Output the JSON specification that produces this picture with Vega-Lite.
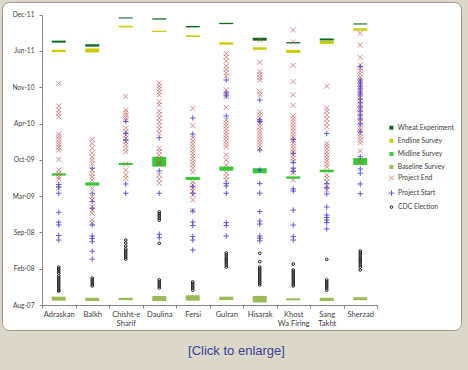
{
"$schema": "https://vega.github.io/schema/vega-lite/v6.json",
"width": 459, "height": 328,
"autosize": "none",
"padding": {"left": 2, "top": 2, "right": 7, "bottom": 40},
"background": "#dbd7c9",
"title": {"text": "[Click to enlarge]", "orient": "bottom", "anchor": "middle", "frame": "group", "font": "Liberation Sans", "fontSize": 13, "fontWeight": "normal", "color": "#3c4199", "offset": 15, "dx": 5},
"config": {
  "view": {"fill": "white", "stroke": "#9a968c", "strokeWidth": 1, "cornerRadius": 7},
  "axis": {"labelFont": "Lato", "labelColor": "#404040", "domainColor": "#868686", "tickColor": "#868686", "grid": false, "title": null},
  "legend": {"labelFont": "Lato", "labelColor": "#404040", "labelFontSize": 6.8, "title": null, "padding": 0, "rowPadding": 5.1, "labelOffset": 3, "orient": "none"}
},
"datasets": {
"surveys": [
{"district":"Adraskan","survey":"Wheat Experiment","start":"2011-07-17","end":"2011-07-28"},
{"district":"Adraskan","survey":"Endline Survey","start":"2011-05-26","end":"2011-06-08"},
{"district":"Adraskan","survey":"Midline Survey","start":"2009-07-14","end":"2009-07-27"},
{"district":"Adraskan","survey":"Baseline Survey","start":"2007-08-25","end":"2007-09-16"},
{"district":"Balkh","survey":"Wheat Experiment","start":"2011-06-25","end":"2011-07-08"},
{"district":"Balkh","survey":"Endline Survey","start":"2011-05-24","end":"2011-06-15"},
{"district":"Balkh","survey":"Midline Survey","start":"2009-05-20","end":"2009-06-07"},
{"district":"Balkh","survey":"Baseline Survey","start":"2007-08-23","end":"2007-09-10"},
{"district":"Chisht-e Sharif","survey":"Wheat Experiment","start":"2011-11-27","end":"2011-12-03"},
{"district":"Chisht-e Sharif","survey":"Endline Survey","start":"2011-10-09","end":"2011-10-18"},
{"district":"Chisht-e Sharif","survey":"Midline Survey","start":"2009-09-11","end":"2009-09-22"},
{"district":"Chisht-e Sharif","survey":"Baseline Survey","start":"2007-08-28","end":"2007-09-10"},
{"district":"Daulina","survey":"Wheat Experiment","start":"2011-11-21","end":"2011-11-28"},
{"district":"Daulina","survey":"Endline Survey","start":"2011-09-14","end":"2011-09-21"},
{"district":"Daulina","survey":"Midline Survey","start":"2009-09-02","end":"2009-10-26"},
{"district":"Daulina","survey":"Baseline Survey","start":"2007-08-23","end":"2007-09-20"},
{"district":"Fersi","survey":"Wheat Experiment","start":"2011-10-09","end":"2011-10-17"},
{"district":"Fersi","survey":"Endline Survey","start":"2011-08-17","end":"2011-08-26"},
{"district":"Fersi","survey":"Midline Survey","start":"2009-06-20","end":"2009-07-07"},
{"district":"Fersi","survey":"Baseline Survey","start":"2007-08-25","end":"2007-09-24"},
{"district":"Gulran","survey":"Wheat Experiment","start":"2011-10-27","end":"2011-11-03"},
{"district":"Gulran","survey":"Endline Survey","start":"2011-07-06","end":"2011-07-19"},
{"district":"Gulran","survey":"Midline Survey","start":"2009-08-10","end":"2009-09-02"},
{"district":"Gulran","survey":"Baseline Survey","start":"2007-08-28","end":"2007-09-16"},
{"district":"Hisarak","survey":"Wheat Experiment","start":"2011-07-28","end":"2011-08-13"},
{"district":"Hisarak","survey":"Endline Survey","start":"2011-06-08","end":"2011-06-21"},
{"district":"Hisarak","survey":"Midline Survey","start":"2009-07-27","end":"2009-08-24"},
{"district":"Hisarak","survey":"Baseline Survey","start":"2007-08-15","end":"2007-09-20"},
{"district":"Khost Wa Firing","survey":"Wheat Experiment","start":"2011-07-13","end":"2011-07-20"},
{"district":"Khost Wa Firing","survey":"Endline Survey","start":"2011-05-22","end":"2011-06-07"},
{"district":"Khost Wa Firing","survey":"Midline Survey","start":"2009-06-27","end":"2009-07-10"},
{"district":"Khost Wa Firing","survey":"Baseline Survey","start":"2007-08-27","end":"2007-09-07"},
{"district":"Sang Takht","survey":"Wheat Experiment","start":"2011-07-29","end":"2011-08-09"},
{"district":"Sang Takht","survey":"Endline Survey","start":"2011-07-10","end":"2011-07-26"},
{"district":"Sang Takht","survey":"Midline Survey","start":"2009-08-02","end":"2009-08-16"},
{"district":"Sang Takht","survey":"Baseline Survey","start":"2007-08-23","end":"2007-09-10"},
{"district":"Sherzad","survey":"Wheat Experiment","start":"2011-10-25","end":"2011-10-31"},
{"district":"Sherzad","survey":"Endline Survey","start":"2011-09-21","end":"2011-10-04"},
{"district":"Sherzad","survey":"Midline Survey","start":"2009-09-11","end":"2009-10-19"},
{"district":"Sherzad","survey":"Baseline Survey","start":"2007-08-28","end":"2007-09-13"}
],
"events": [
{"district":"Adraskan","type":"Project End","date":"2010-12-04"},
{"district":"Adraskan","type":"Project End","date":"2010-08-02"},
{"district":"Adraskan","type":"Project End","date":"2010-07-11"},
{"district":"Adraskan","type":"Project End","date":"2010-06-22"},
{"district":"Adraskan","type":"Project End","date":"2010-06-04"},
{"district":"Adraskan","type":"Project End","date":"2010-02-28"},
{"district":"Adraskan","type":"Project End","date":"2010-02-14"},
{"district":"Adraskan","type":"Project End","date":"2010-01-30"},
{"district":"Adraskan","type":"Project End","date":"2010-01-15"},
{"district":"Adraskan","type":"Project End","date":"2009-12-31"},
{"district":"Adraskan","type":"Project End","date":"2009-12-17"},
{"district":"Adraskan","type":"Project End","date":"2009-12-02"},
{"district":"Adraskan","type":"Project End","date":"2009-10-12"},
{"district":"Adraskan","type":"Project End","date":"2009-08-14"},
{"district":"Adraskan","type":"Project End","date":"2009-07-27"},
{"district":"Adraskan","type":"Project End","date":"2009-07-08"},
{"district":"Adraskan","type":"Project End","date":"2009-06-25"},
{"district":"Adraskan","type":"Project End","date":"2009-05-05"},
{"district":"Balkh","type":"Project End","date":"2010-01-29"},
{"district":"Balkh","type":"Project End","date":"2010-01-07"},
{"district":"Balkh","type":"Project End","date":"2009-12-13"},
{"district":"Balkh","type":"Project End","date":"2009-11-16"},
{"district":"Balkh","type":"Project End","date":"2009-10-25"},
{"district":"Balkh","type":"Project End","date":"2009-10-08"},
{"district":"Balkh","type":"Project End","date":"2009-09-19"},
{"district":"Balkh","type":"Project End","date":"2009-08-14"},
{"district":"Balkh","type":"Project End","date":"2009-07-26"},
{"district":"Balkh","type":"Project End","date":"2009-07-07"},
{"district":"Balkh","type":"Project End","date":"2009-06-20"},
{"district":"Balkh","type":"Project End","date":"2009-05-05"},
{"district":"Balkh","type":"Project End","date":"2009-03-20"},
{"district":"Balkh","type":"Project End","date":"2009-03-02"},
{"district":"Balkh","type":"Project End","date":"2009-01-24"},
{"district":"Balkh","type":"Project End","date":"2009-01-05"},
{"district":"Balkh","type":"Project End","date":"2008-12-19"},
{"district":"Balkh","type":"Project End","date":"2008-11-12"},
{"district":"Balkh","type":"Project End","date":"2008-10-26"},
{"district":"Chisht-e Sharif","type":"Project End","date":"2010-09-23"},
{"district":"Chisht-e Sharif","type":"Project End","date":"2010-07-11"},
{"district":"Chisht-e Sharif","type":"Project End","date":"2010-06-27"},
{"district":"Chisht-e Sharif","type":"Project End","date":"2010-06-13"},
{"district":"Chisht-e Sharif","type":"Project End","date":"2010-05-30"},
{"district":"Chisht-e Sharif","type":"Project End","date":"2010-05-17"},
{"district":"Chisht-e Sharif","type":"Project End","date":"2010-04-03"},
{"district":"Chisht-e Sharif","type":"Project End","date":"2010-03-13"},
{"district":"Chisht-e Sharif","type":"Project End","date":"2010-02-23"},
{"district":"Chisht-e Sharif","type":"Project End","date":"2010-02-05"},
{"district":"Chisht-e Sharif","type":"Project End","date":"2010-01-17"},
{"district":"Chisht-e Sharif","type":"Project End","date":"2009-12-30"},
{"district":"Chisht-e Sharif","type":"Project End","date":"2009-12-11"},
{"district":"Chisht-e Sharif","type":"Project End","date":"2009-11-23"},
{"district":"Chisht-e Sharif","type":"Project End","date":"2009-09-15"},
{"district":"Chisht-e Sharif","type":"Project End","date":"2009-08-14"},
{"district":"Chisht-e Sharif","type":"Project End","date":"2009-07-18"},
{"district":"Chisht-e Sharif","type":"Project End","date":"2009-06-29"},
{"district":"Daulina","type":"Project End","date":"2010-12-07"},
{"district":"Daulina","type":"Project End","date":"2010-11-20"},
{"district":"Daulina","type":"Project End","date":"2010-11-04"},
{"district":"Daulina","type":"Project End","date":"2010-10-18"},
{"district":"Daulina","type":"Project End","date":"2010-10-02"},
{"district":"Daulina","type":"Project End","date":"2010-08-26"},
{"district":"Daulina","type":"Project End","date":"2010-08-08"},
{"district":"Daulina","type":"Project End","date":"2010-07-05"},
{"district":"Daulina","type":"Project End","date":"2010-06-16"},
{"district":"Daulina","type":"Project End","date":"2010-05-28"},
{"district":"Daulina","type":"Project End","date":"2010-05-06"},
{"district":"Daulina","type":"Project End","date":"2010-04-16"},
{"district":"Daulina","type":"Project End","date":"2010-03-28"},
{"district":"Daulina","type":"Project End","date":"2010-03-06"},
{"district":"Daulina","type":"Project End","date":"2009-12-11"},
{"district":"Daulina","type":"Project End","date":"2009-11-24"},
{"district":"Daulina","type":"Project End","date":"2009-11-05"},
{"district":"Daulina","type":"Project End","date":"2009-10-18"},
{"district":"Daulina","type":"Project End","date":"2009-09-27"},
{"district":"Daulina","type":"Project End","date":"2009-09-16"},
{"district":"Daulina","type":"Project End","date":"2009-07-18"},
{"district":"Daulina","type":"Project End","date":"2009-06-25"},
{"district":"Daulina","type":"Project End","date":"2009-06-02"},
{"district":"Fersi","type":"Project End","date":"2010-07-20"},
{"district":"Fersi","type":"Project End","date":"2010-04-16"},
{"district":"Fersi","type":"Project End","date":"2010-02-07"},
{"district":"Fersi","type":"Project End","date":"2010-01-21"},
{"district":"Fersi","type":"Project End","date":"2010-01-04"},
{"district":"Fersi","type":"Project End","date":"2009-12-19"},
{"district":"Fersi","type":"Project End","date":"2009-12-02"},
{"district":"Fersi","type":"Project End","date":"2009-11-16"},
{"district":"Fersi","type":"Project End","date":"2009-10-30"},
{"district":"Fersi","type":"Project End","date":"2009-10-14"},
{"district":"Fersi","type":"Project End","date":"2009-09-27"},
{"district":"Fersi","type":"Project End","date":"2009-09-11"},
{"district":"Fersi","type":"Project End","date":"2009-08-25"},
{"district":"Fersi","type":"Project End","date":"2009-08-03"},
{"district":"Fersi","type":"Project End","date":"2009-06-09"},
{"district":"Fersi","type":"Project End","date":"2009-05-24"},
{"district":"Fersi","type":"Project End","date":"2009-05-07"},
{"district":"Fersi","type":"Project End","date":"2009-04-20"},
{"district":"Fersi","type":"Project End","date":"2009-03-29"},
{"district":"Fersi","type":"Project End","date":"2009-03-02"},
{"district":"Fersi","type":"Project End","date":"2009-01-03"},
{"district":"Gulran","type":"Project End","date":"2011-05-18"},
{"district":"Gulran","type":"Project End","date":"2011-04-29"},
{"district":"Gulran","type":"Project End","date":"2011-04-07"},
{"district":"Gulran","type":"Project End","date":"2011-03-10"},
{"district":"Gulran","type":"Project End","date":"2011-02-19"},
{"district":"Gulran","type":"Project End","date":"2011-01-31"},
{"district":"Gulran","type":"Project End","date":"2011-01-14"},
{"district":"Gulran","type":"Project End","date":"2010-10-29"},
{"district":"Gulran","type":"Project End","date":"2010-10-13"},
{"district":"Gulran","type":"Project End","date":"2010-09-23"},
{"district":"Gulran","type":"Project End","date":"2010-07-25"},
{"district":"Gulran","type":"Project End","date":"2010-05-17"},
{"district":"Gulran","type":"Project End","date":"2010-04-30"},
{"district":"Gulran","type":"Project End","date":"2010-04-14"},
{"district":"Gulran","type":"Project End","date":"2010-03-28"},
{"district":"Gulran","type":"Project End","date":"2010-03-11"},
{"district":"Gulran","type":"Project End","date":"2010-02-23"},
{"district":"Gulran","type":"Project End","date":"2010-02-07"},
{"district":"Gulran","type":"Project End","date":"2010-01-21"},
{"district":"Gulran","type":"Project End","date":"2010-01-04"},
{"district":"Gulran","type":"Project End","date":"2009-12-19"},
{"district":"Gulran","type":"Project End","date":"2009-11-05"},
{"district":"Gulran","type":"Project End","date":"2009-10-08"},
{"district":"Gulran","type":"Project End","date":"2009-09-11"},
{"district":"Gulran","type":"Project End","date":"2009-07-28"},
{"district":"Gulran","type":"Project End","date":"2009-07-08"},
{"district":"Gulran","type":"Project End","date":"2009-06-20"},
{"district":"Hisarak","type":"Project End","date":"2011-07-31"},
{"district":"Hisarak","type":"Project End","date":"2011-03-30"},
{"district":"Hisarak","type":"Project End","date":"2011-02-07"},
{"district":"Hisarak","type":"Project End","date":"2011-01-22"},
{"district":"Hisarak","type":"Project End","date":"2011-01-06"},
{"district":"Hisarak","type":"Project End","date":"2010-12-23"},
{"district":"Hisarak","type":"Project End","date":"2010-10-20"},
{"district":"Hisarak","type":"Project End","date":"2010-10-02"},
{"district":"Hisarak","type":"Project End","date":"2010-06-30"},
{"district":"Hisarak","type":"Project End","date":"2010-06-13"},
{"district":"Hisarak","type":"Project End","date":"2010-05-28"},
{"district":"Hisarak","type":"Project End","date":"2010-05-11"},
{"district":"Hisarak","type":"Project End","date":"2010-04-25"},
{"district":"Hisarak","type":"Project End","date":"2010-04-08"},
{"district":"Hisarak","type":"Project End","date":"2010-03-22"},
{"district":"Hisarak","type":"Project End","date":"2010-03-06"},
{"district":"Hisarak","type":"Project End","date":"2010-02-17"},
{"district":"Hisarak","type":"Project End","date":"2010-02-01"},
{"district":"Hisarak","type":"Project End","date":"2010-01-15"},
{"district":"Hisarak","type":"Project End","date":"2009-12-30"},
{"district":"Hisarak","type":"Project End","date":"2009-12-13"},
{"district":"Khost Wa Firing","type":"Project End","date":"2011-09-25"},
{"district":"Khost Wa Firing","type":"Project End","date":"2011-07-21"},
{"district":"Khost Wa Firing","type":"Project End","date":"2011-03-14"},
{"district":"Khost Wa Firing","type":"Project End","date":"2010-12-14"},
{"district":"Khost Wa Firing","type":"Project End","date":"2010-10-02"},
{"district":"Khost Wa Firing","type":"Project End","date":"2010-08-05"},
{"district":"Khost Wa Firing","type":"Project End","date":"2010-06-08"},
{"district":"Khost Wa Firing","type":"Project End","date":"2010-05-22"},
{"district":"Khost Wa Firing","type":"Project End","date":"2010-05-06"},
{"district":"Khost Wa Firing","type":"Project End","date":"2010-04-19"},
{"district":"Khost Wa Firing","type":"Project End","date":"2010-04-03"},
{"district":"Khost Wa Firing","type":"Project End","date":"2010-03-17"},
{"district":"Khost Wa Firing","type":"Project End","date":"2010-02-28"},
{"district":"Khost Wa Firing","type":"Project End","date":"2010-02-12"},
{"district":"Khost Wa Firing","type":"Project End","date":"2010-01-26"},
{"district":"Khost Wa Firing","type":"Project End","date":"2010-01-10"},
{"district":"Khost Wa Firing","type":"Project End","date":"2009-12-24"},
{"district":"Khost Wa Firing","type":"Project End","date":"2009-12-08"},
{"district":"Khost Wa Firing","type":"Project End","date":"2009-11-21"},
{"district":"Khost Wa Firing","type":"Project End","date":"2009-11-05"},
{"district":"Khost Wa Firing","type":"Project End","date":"2009-10-19"},
{"district":"Khost Wa Firing","type":"Project End","date":"2009-09-29"},
{"district":"Khost Wa Firing","type":"Project End","date":"2009-08-14"},
{"district":"Khost Wa Firing","type":"Project End","date":"2009-07-31"},
{"district":"Khost Wa Firing","type":"Project End","date":"2009-06-20"},
{"district":"Sang Takht","type":"Project End","date":"2010-11-19"},
{"district":"Sang Takht","type":"Project End","date":"2010-07-22"},
{"district":"Sang Takht","type":"Project End","date":"2010-07-05"},
{"district":"Sang Takht","type":"Project End","date":"2010-06-13"},
{"district":"Sang Takht","type":"Project End","date":"2010-05-22"},
{"district":"Sang Takht","type":"Project End","date":"2010-04-30"},
{"district":"Sang Takht","type":"Project End","date":"2010-04-08"},
{"district":"Sang Takht","type":"Project End","date":"2010-01-08"},
{"district":"Sang Takht","type":"Project End","date":"2009-12-24"},
{"district":"Sang Takht","type":"Project End","date":"2009-12-08"},
{"district":"Sang Takht","type":"Project End","date":"2009-11-21"},
{"district":"Sang Takht","type":"Project End","date":"2009-11-05"},
{"district":"Sang Takht","type":"Project End","date":"2009-10-19"},
{"district":"Sang Takht","type":"Project End","date":"2009-10-03"},
{"district":"Sang Takht","type":"Project End","date":"2009-09-16"},
{"district":"Sang Takht","type":"Project End","date":"2009-08-31"},
{"district":"Sang Takht","type":"Project End","date":"2009-07-18"},
{"district":"Sang Takht","type":"Project End","date":"2009-06-29"},
{"district":"Sang Takht","type":"Project End","date":"2009-06-10"},
{"district":"Sang Takht","type":"Project End","date":"2009-05-12"},
{"district":"Sang Takht","type":"Project End","date":"2009-04-26"},
{"district":"Sherzad","type":"Project End","date":"2011-09-07"},
{"district":"Sherzad","type":"Project End","date":"2011-07-04"},
{"district":"Sherzad","type":"Project End","date":"2011-04-27"},
{"district":"Sherzad","type":"Project End","date":"2011-03-16"},
{"district":"Sherzad","type":"Project End","date":"2011-02-27"},
{"district":"Sherzad","type":"Project End","date":"2011-02-11"},
{"district":"Sherzad","type":"Project End","date":"2011-01-25"},
{"district":"Sherzad","type":"Project End","date":"2011-01-09"},
{"district":"Sherzad","type":"Project End","date":"2010-12-23"},
{"district":"Sherzad","type":"Project End","date":"2010-12-07"},
{"district":"Sherzad","type":"Project End","date":"2010-11-20"},
{"district":"Sherzad","type":"Project End","date":"2010-11-04"},
{"district":"Sherzad","type":"Project End","date":"2010-10-18"},
{"district":"Sherzad","type":"Project End","date":"2010-10-02"},
{"district":"Sherzad","type":"Project End","date":"2010-09-15"},
{"district":"Sherzad","type":"Project End","date":"2010-08-30"},
{"district":"Sherzad","type":"Project End","date":"2010-08-13"},
{"district":"Sherzad","type":"Project End","date":"2010-07-27"},
{"district":"Sherzad","type":"Project End","date":"2010-07-11"},
{"district":"Sherzad","type":"Project End","date":"2010-06-24"},
{"district":"Sherzad","type":"Project End","date":"2010-06-08"},
{"district":"Sherzad","type":"Project End","date":"2010-05-22"},
{"district":"Sherzad","type":"Project End","date":"2010-05-06"},
{"district":"Sherzad","type":"Project End","date":"2010-04-19"},
{"district":"Sherzad","type":"Project End","date":"2010-04-03"},
{"district":"Sherzad","type":"Project End","date":"2010-03-17"},
{"district":"Sherzad","type":"Project End","date":"2010-02-28"},
{"district":"Sherzad","type":"Project End","date":"2010-02-12"},
{"district":"Sherzad","type":"Project End","date":"2010-01-26"},
{"district":"Sherzad","type":"Project End","date":"2010-01-10"},
{"district":"Sherzad","type":"Project End","date":"2009-11-27"},
{"district":"Sherzad","type":"Project End","date":"2009-09-29"},
{"district":"Adraskan","type":"Project Start","date":"2009-05-26"},
{"district":"Adraskan","type":"Project Start","date":"2009-05-12"},
{"district":"Adraskan","type":"Project Start","date":"2009-04-08"},
{"district":"Adraskan","type":"Project Start","date":"2008-12-24"},
{"district":"Adraskan","type":"Project Start","date":"2008-10-31"},
{"district":"Adraskan","type":"Project Start","date":"2008-10-15"},
{"district":"Adraskan","type":"Project Start","date":"2008-08-18"},
{"district":"Adraskan","type":"Project Start","date":"2008-07-24"},
{"district":"Balkh","type":"Project Start","date":"2009-08-24"},
{"district":"Balkh","type":"Project Start","date":"2009-04-08"},
{"district":"Balkh","type":"Project Start","date":"2009-02-21"},
{"district":"Balkh","type":"Project Start","date":"2009-01-15"},
{"district":"Balkh","type":"Project Start","date":"2008-10-15"},
{"district":"Balkh","type":"Project Start","date":"2008-08-15"},
{"district":"Balkh","type":"Project Start","date":"2008-08-02"},
{"district":"Balkh","type":"Project Start","date":"2008-07-15"},
{"district":"Balkh","type":"Project Start","date":"2008-05-23"},
{"district":"Balkh","type":"Project Start","date":"2008-04-10"},
{"district":"Chisht-e Sharif","type":"Project Start","date":"2010-05-08"},
{"district":"Chisht-e Sharif","type":"Project Start","date":"2010-03-04"},
{"district":"Chisht-e Sharif","type":"Project Start","date":"2010-01-26"},
{"district":"Chisht-e Sharif","type":"Project Start","date":"2009-05-29"},
{"district":"Chisht-e Sharif","type":"Project Start","date":"2009-04-08"},
{"district":"Daulina","type":"Project Start","date":"2010-02-08"},
{"district":"Daulina","type":"Project Start","date":"2009-08-09"},
{"district":"Daulina","type":"Project Start","date":"2009-04-08"},
{"district":"Daulina","type":"Project Start","date":"2008-08-25"},
{"district":"Daulina","type":"Project Start","date":"2008-08-06"},
{"district":"Fersi","type":"Project Start","date":"2010-05-28"},
{"district":"Fersi","type":"Project Start","date":"2010-02-28"},
{"district":"Fersi","type":"Project Start","date":"2009-05-14"},
{"district":"Fersi","type":"Project Start","date":"2009-04-08"},
{"district":"Fersi","type":"Project Start","date":"2008-12-31"},
{"district":"Fersi","type":"Project Start","date":"2008-10-31"},
{"district":"Fersi","type":"Project Start","date":"2008-10-12"},
{"district":"Fersi","type":"Project Start","date":"2008-08-13"},
{"district":"Fersi","type":"Project Start","date":"2008-07-24"},
{"district":"Fersi","type":"Project Start","date":"2008-05-30"},
{"district":"Gulran","type":"Project Start","date":"2010-12-23"},
{"district":"Gulran","type":"Project Start","date":"2010-10-13"},
{"district":"Gulran","type":"Project Start","date":"2010-09-26"},
{"district":"Gulran","type":"Project Start","date":"2010-06-08"},
{"district":"Gulran","type":"Project Start","date":"2009-05-31"},
{"district":"Gulran","type":"Project Start","date":"2009-05-18"},
{"district":"Gulran","type":"Project Start","date":"2009-04-08"},
{"district":"Gulran","type":"Project Start","date":"2008-10-28"},
{"district":"Gulran","type":"Project Start","date":"2008-10-12"},
{"district":"Gulran","type":"Project Start","date":"2008-08-15"},
{"district":"Hisarak","type":"Project Start","date":"2010-09-04"},
{"district":"Hisarak","type":"Project Start","date":"2010-05-17"},
{"district":"Hisarak","type":"Project Start","date":"2010-05-08"},
{"district":"Hisarak","type":"Project Start","date":"2009-12-02"},
{"district":"Hisarak","type":"Project Start","date":"2009-08-14"},
{"district":"Hisarak","type":"Project Start","date":"2009-05-31"},
{"district":"Hisarak","type":"Project Start","date":"2009-04-08"},
{"district":"Hisarak","type":"Project Start","date":"2008-12-28"},
{"district":"Hisarak","type":"Project Start","date":"2008-11-06"},
{"district":"Hisarak","type":"Project Start","date":"2008-10-20"},
{"district":"Hisarak","type":"Project Start","date":"2008-08-15"},
{"district":"Hisarak","type":"Project Start","date":"2008-08-03"},
{"district":"Hisarak","type":"Project Start","date":"2008-07-20"},
{"district":"Khost Wa Firing","type":"Project Start","date":"2010-01-29"},
{"district":"Khost Wa Firing","type":"Project Start","date":"2009-11-14"},
{"district":"Khost Wa Firing","type":"Project Start","date":"2009-09-25"},
{"district":"Khost Wa Firing","type":"Project Start","date":"2009-08-24"},
{"district":"Khost Wa Firing","type":"Project Start","date":"2009-08-06"},
{"district":"Khost Wa Firing","type":"Project Start","date":"2009-05-02"},
{"district":"Khost Wa Firing","type":"Project Start","date":"2009-04-20"},
{"district":"Khost Wa Firing","type":"Project Start","date":"2009-01-05"},
{"district":"Khost Wa Firing","type":"Project Start","date":"2008-10-15"},
{"district":"Khost Wa Firing","type":"Project Start","date":"2008-08-13"},
{"district":"Khost Wa Firing","type":"Project Start","date":"2008-07-24"},
{"district":"Sang Takht","type":"Project Start","date":"2010-03-03"},
{"district":"Sang Takht","type":"Project Start","date":"2009-05-31"},
{"district":"Sang Takht","type":"Project Start","date":"2009-05-09"},
{"district":"Sang Takht","type":"Project Start","date":"2009-04-04"},
{"district":"Sang Takht","type":"Project Start","date":"2009-01-22"},
{"district":"Sang Takht","type":"Project Start","date":"2008-12-09"},
{"district":"Sang Takht","type":"Project Start","date":"2008-11-25"},
{"district":"Sang Takht","type":"Project Start","date":"2008-11-11"},
{"district":"Sang Takht","type":"Project Start","date":"2008-10-28"},
{"district":"Sang Takht","type":"Project Start","date":"2008-09-23"},
{"district":"Sherzad","type":"Project Start","date":"2011-03-07"},
{"district":"Sherzad","type":"Project Start","date":"2010-12-23"},
{"district":"Sherzad","type":"Project Start","date":"2010-12-07"},
{"district":"Sherzad","type":"Project Start","date":"2010-11-20"},
{"district":"Sherzad","type":"Project Start","date":"2010-11-04"},
{"district":"Sherzad","type":"Project Start","date":"2010-10-18"},
{"district":"Sherzad","type":"Project Start","date":"2010-10-02"},
{"district":"Sherzad","type":"Project Start","date":"2010-09-09"},
{"district":"Sherzad","type":"Project Start","date":"2010-08-19"},
{"district":"Sherzad","type":"Project Start","date":"2010-07-27"},
{"district":"Sherzad","type":"Project Start","date":"2010-07-05"},
{"district":"Sherzad","type":"Project Start","date":"2010-06-13"},
{"district":"Sherzad","type":"Project Start","date":"2010-05-22"},
{"district":"Sherzad","type":"Project Start","date":"2010-04-25"},
{"district":"Sherzad","type":"Project Start","date":"2010-03-13"},
{"district":"Sherzad","type":"Project Start","date":"2009-10-26"},
{"district":"Sherzad","type":"Project Start","date":"2009-08-20"},
{"district":"Sherzad","type":"Project Start","date":"2009-07-27"},
{"district":"Sherzad","type":"Project Start","date":"2009-05-29"},
{"district":"Sherzad","type":"Project Start","date":"2009-04-05"},
{"district":"Adraskan","type":"CDC Election","date":"2008-02-26"},
{"district":"Adraskan","type":"CDC Election","date":"2008-02-15"},
{"district":"Adraskan","type":"CDC Election","date":"2008-02-04"},
{"district":"Adraskan","type":"CDC Election","date":"2008-01-24"},
{"district":"Adraskan","type":"CDC Election","date":"2008-01-08"},
{"district":"Adraskan","type":"CDC Election","date":"2007-12-28"},
{"district":"Adraskan","type":"CDC Election","date":"2007-12-17"},
{"district":"Adraskan","type":"CDC Election","date":"2007-12-06"},
{"district":"Adraskan","type":"CDC Election","date":"2007-11-25"},
{"district":"Adraskan","type":"CDC Election","date":"2007-11-14"},
{"district":"Adraskan","type":"CDC Election","date":"2007-11-03"},
{"district":"Adraskan","type":"CDC Election","date":"2007-10-22"},
{"district":"Adraskan","type":"CDC Election","date":"2007-10-17"},
{"district":"Balkh","type":"CDC Election","date":"2007-12-28"},
{"district":"Balkh","type":"CDC Election","date":"2007-12-17"},
{"district":"Balkh","type":"CDC Election","date":"2007-12-06"},
{"district":"Balkh","type":"CDC Election","date":"2007-11-25"},
{"district":"Balkh","type":"CDC Election","date":"2007-11-14"},
{"district":"Chisht-e Sharif","type":"CDC Election","date":"2008-07-24"},
{"district":"Chisht-e Sharif","type":"CDC Election","date":"2008-07-08"},
{"district":"Chisht-e Sharif","type":"CDC Election","date":"2008-06-21"},
{"district":"Chisht-e Sharif","type":"CDC Election","date":"2008-06-05"},
{"district":"Chisht-e Sharif","type":"CDC Election","date":"2008-05-25"},
{"district":"Chisht-e Sharif","type":"CDC Election","date":"2008-05-14"},
{"district":"Chisht-e Sharif","type":"CDC Election","date":"2008-05-03"},
{"district":"Chisht-e Sharif","type":"CDC Election","date":"2008-04-21"},
{"district":"Chisht-e Sharif","type":"CDC Election","date":"2008-04-10"},
{"district":"Daulina","type":"CDC Election","date":"2008-12-26"},
{"district":"Daulina","type":"CDC Election","date":"2008-12-15"},
{"district":"Daulina","type":"CDC Election","date":"2008-12-04"},
{"district":"Daulina","type":"CDC Election","date":"2008-11-22"},
{"district":"Daulina","type":"CDC Election","date":"2008-11-11"},
{"district":"Daulina","type":"CDC Election","date":"2008-07-06"},
{"district":"Daulina","type":"CDC Election","date":"2007-12-17"},
{"district":"Daulina","type":"CDC Election","date":"2007-12-06"},
{"district":"Daulina","type":"CDC Election","date":"2007-11-25"},
{"district":"Daulina","type":"CDC Election","date":"2007-11-14"},
{"district":"Daulina","type":"CDC Election","date":"2007-11-03"},
{"district":"Fersi","type":"CDC Election","date":"2007-12-06"},
{"district":"Fersi","type":"CDC Election","date":"2007-11-25"},
{"district":"Fersi","type":"CDC Election","date":"2007-11-14"},
{"district":"Fersi","type":"CDC Election","date":"2007-11-03"},
{"district":"Fersi","type":"CDC Election","date":"2007-10-22"},
{"district":"Gulran","type":"CDC Election","date":"2008-05-14"},
{"district":"Gulran","type":"CDC Election","date":"2008-05-03"},
{"district":"Gulran","type":"CDC Election","date":"2008-04-21"},
{"district":"Gulran","type":"CDC Election","date":"2008-04-10"},
{"district":"Gulran","type":"CDC Election","date":"2008-03-31"},
{"district":"Gulran","type":"CDC Election","date":"2008-03-20"},
{"district":"Gulran","type":"CDC Election","date":"2008-03-09"},
{"district":"Gulran","type":"CDC Election","date":"2008-02-26"},
{"district":"Hisarak","type":"CDC Election","date":"2008-05-12"},
{"district":"Hisarak","type":"CDC Election","date":"2008-03-27"},
{"district":"Hisarak","type":"CDC Election","date":"2008-02-26"},
{"district":"Hisarak","type":"CDC Election","date":"2008-02-15"},
{"district":"Hisarak","type":"CDC Election","date":"2008-02-04"},
{"district":"Hisarak","type":"CDC Election","date":"2008-01-24"},
{"district":"Hisarak","type":"CDC Election","date":"2008-01-13"},
{"district":"Hisarak","type":"CDC Election","date":"2008-01-02"},
{"district":"Hisarak","type":"CDC Election","date":"2007-12-22"},
{"district":"Hisarak","type":"CDC Election","date":"2007-12-11"},
{"district":"Hisarak","type":"CDC Election","date":"2007-11-30"},
{"district":"Hisarak","type":"CDC Election","date":"2007-11-19"},
{"district":"Khost Wa Firing","type":"CDC Election","date":"2008-03-14"},
{"district":"Khost Wa Firing","type":"CDC Election","date":"2008-02-10"},
{"district":"Khost Wa Firing","type":"CDC Election","date":"2008-01-30"},
{"district":"Khost Wa Firing","type":"CDC Election","date":"2008-01-19"},
{"district":"Khost Wa Firing","type":"CDC Election","date":"2008-01-08"},
{"district":"Khost Wa Firing","type":"CDC Election","date":"2007-12-28"},
{"district":"Khost Wa Firing","type":"CDC Election","date":"2007-12-17"},
{"district":"Khost Wa Firing","type":"CDC Election","date":"2007-12-06"},
{"district":"Khost Wa Firing","type":"CDC Election","date":"2007-11-25"},
{"district":"Khost Wa Firing","type":"CDC Election","date":"2007-11-14"},
{"district":"Sang Takht","type":"CDC Election","date":"2008-04-08"},
{"district":"Sang Takht","type":"CDC Election","date":"2007-12-17"},
{"district":"Sang Takht","type":"CDC Election","date":"2007-12-06"},
{"district":"Sang Takht","type":"CDC Election","date":"2007-11-25"},
{"district":"Sang Takht","type":"CDC Election","date":"2007-11-14"},
{"district":"Sang Takht","type":"CDC Election","date":"2007-11-03"},
{"district":"Sang Takht","type":"CDC Election","date":"2007-10-22"},
{"district":"Sherzad","type":"CDC Election","date":"2008-05-25"},
{"district":"Sherzad","type":"CDC Election","date":"2008-05-14"},
{"district":"Sherzad","type":"CDC Election","date":"2008-05-03"},
{"district":"Sherzad","type":"CDC Election","date":"2008-04-21"},
{"district":"Sherzad","type":"CDC Election","date":"2008-04-10"},
{"district":"Sherzad","type":"CDC Election","date":"2008-03-31"},
{"district":"Sherzad","type":"CDC Election","date":"2008-03-20"},
{"district":"Sherzad","type":"CDC Election","date":"2008-03-09"},
{"district":"Sherzad","type":"CDC Election","date":"2008-02-26"},
{"district":"Sherzad","type":"CDC Election","date":"2008-02-10"}
]
},
"encoding": {
  "x": {"field": "district", "type": "nominal",
        "sort": ["Adraskan","Balkh","Chisht-e Sharif","Daulina","Fersi","Gulran","Hisarak","Khost Wa Firing","Sang Takht","Sherzad"],
        "scale": {"range": [40, 375], "paddingInner": 0, "paddingOuter": 0},
        "axis": {"orient": "bottom", "offset": -25, "labelAngle": 0, "labelFontSize": 7.6, "labelPadding": 2, "tickSize": 3, "tickBand": "extent", "labelLineHeight": 9,
                 "labelExpr": "datum.label == 'Chisht-e Sharif' ? ['Chisht-e','Sharif'] : datum.label == 'Khost Wa Firing' ? ['Khost','Wa Firing'] : datum.label == 'Sang Takht' ? ['Sang','Takht'] : datum.label"}}
},
"layer": [
  {
    "data": {"name": "surveys"},
    "mark": {"type": "bar", "width": 14},
    "encoding": {
      "y": {"field": "start", "type": "temporal",
            "scale": {"type": "utc", "domain": [{"year": 2007, "month": 8, "date": 1, "utc": true}, {"year": 2011, "month": 12, "date": 18, "utc": true}], "range": [303, 12.7]},
            "axis": {"orient": "left", "offset": -40, "format": "%b-%y", "labelFontSize": 6.6, "tickSize": 3, "labelPadding": 5,
                     "values": [{"year": 2007, "month": 8, "date": 1, "utc": true}, {"year": 2008, "month": 2, "date": 17, "utc": true}, {"year": 2008, "month": 9, "date": 4, "utc": true}, {"year": 2009, "month": 3, "date": 23, "utc": true}, {"year": 2009, "month": 10, "date": 9, "utc": true}, {"year": 2010, "month": 4, "date": 27, "utc": true}, {"year": 2010, "month": 11, "date": 13, "utc": true}, {"year": 2011, "month": 6, "date": 1, "utc": true}, {"year": 2011, "month": 12, "date": 18, "utc": true}]}},
      "y2": {"field": "end"},
      "color": {"field": "survey", "type": "nominal",
                "scale": {"domain": ["Wheat Experiment","Endline Survey","Midline Survey","Baseline Survey"], "range": ["#0b6a22","#cccc00","#38c838","#9bbb59"]},
                "legend": {"legendX": 386, "legendY": 122.3, "symbolType": "square", "symbolSize": 16, "symbolStrokeWidth": 0}}
    }
  },
  {
    "data": {"name": "events"},
    "mark": {"type": "point", "filled": false, "strokeWidth": 1},
    "encoding": {
      "y": {"field": "date", "type": "temporal"},
      "color": {"field": "type", "type": "nominal",
                "scale": {"domain": ["Project End","Project Start","CDC Election"], "range": ["#c0504d","#3838d0","#000000"]},
                "legend": {"legendX": 386, "legendY": 172.5, "symbolSize": 14, "symbolStrokeWidth": 1}},
      "shape": {"field": "type", "type": "nominal",
                "scale": {"domain": ["Project End","Project Start","CDC Election"], "range": ["M-1,-1L1,1M-1,1L1,-1","M-1,0L1,0M0,-1L0,1","circle"]},
                "legend": {"legendX": 386, "legendY": 172.5, "symbolSize": 14, "symbolStrokeWidth": 1}},
      "size": {"field": "type", "type": "nominal", "scale": {"type": "ordinal", "domain": ["Project End","Project Start","CDC Election"], "range": [25, 30, 7]}, "legend": null},
      "opacity": {"field": "type", "type": "nominal", "scale": {"type": "ordinal", "domain": ["Project End","Project Start","CDC Election"], "range": [0.65, 0.8, 0.9]}, "legend": null}
    }
  }
],
"resolve": {"scale": {"color": "independent", "shape": "independent", "size": "independent", "opacity": "independent"}, "legend": {"color": "independent", "shape": "independent", "size": "independent", "opacity": "independent"}}
}
